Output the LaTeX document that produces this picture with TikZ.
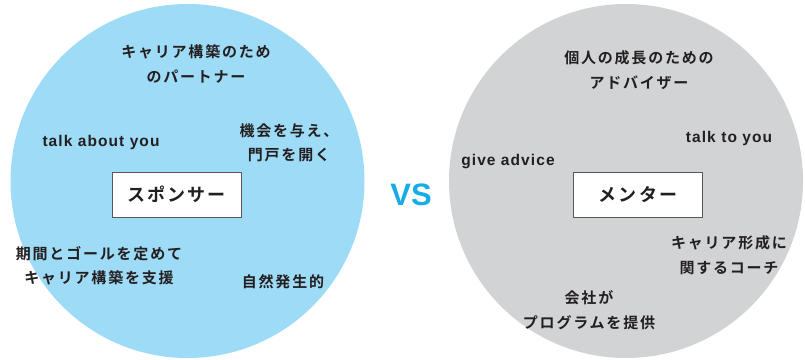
\documentclass[tikz,border=0pt]{standalone}
\usepackage{fontspec}
\setmainfont{Liberation Sans}
\newfontfamily\jp[BoldFont={* Bold},LetterSpace=12]{Noto Sans CJK JP}
\newfontfamily\lat[LetterSpace=7]{Liberation Sans}
\definecolor{sky}{HTML}{9EDBF6}
\definecolor{greyc}{HTML}{D1D3D4}
\definecolor{vscol}{HTML}{17ACE6}
\definecolor{ink}{HTML}{231F20}
\begin{document}
\begin{tikzpicture}[x=1pt,y=-1pt,
  lbl/.style={text=ink,font=\jp\bfseries\fontsize{15}{24.5}\selectfont,align=center,inner sep=0pt},
  eng/.style={text=ink,font=\lat\bfseries\fontsize{15.5}{18}\selectfont,inner sep=0pt},
  titlebox/.style={draw=ink!75,line width=0.8pt,fill=white,minimum width=129pt,minimum height=45pt,
    text=ink,font=\jp\bfseries\fontsize{18}{20}\selectfont,inner sep=0pt}]
\useasboundingbox (0,0) rectangle (805,359);
\fill[sky] (187.5,181) circle[radius=177];
\fill[greyc] (626,181) circle[radius=177];
\node[titlebox] (sp) at (176.5,194.5) {スポンサー};
\node[titlebox] (me) at (638,194.5) {メンター};
\node[text=vscol,font=\bfseries\fontsize{31}{31}\selectfont,inner sep=0pt] (vs) at (411,195) {VS};
% left
\node[lbl] (a1) at (196,64) {キャリア構築のため\\のパートナー};
\node[eng] (a2) at (101,142) {talk about you};
\node[lbl] (a3) at (289,143) {機会を与え、\\門戸を開く};
\node[lbl] (a4) at (99,266) {期間とゴールを定めて\\キャリア構築を支援};
\node[lbl] (a5) at (283,282) {自然発生的};
% right
\node[lbl] (b1) at (639,70) {個人の成長のための\\アドバイザー};
\node[eng] (b2) at (729,138) {talk to you};
\node[eng] (b3) at (508,162) {give advice};
\node[lbl] (b4) at (729,255) {キャリア形成に\\関するコーチ};
\node[lbl] (b5) at (589,310) {会社が\\プログラムを提供};
\end{tikzpicture}
\end{document}
